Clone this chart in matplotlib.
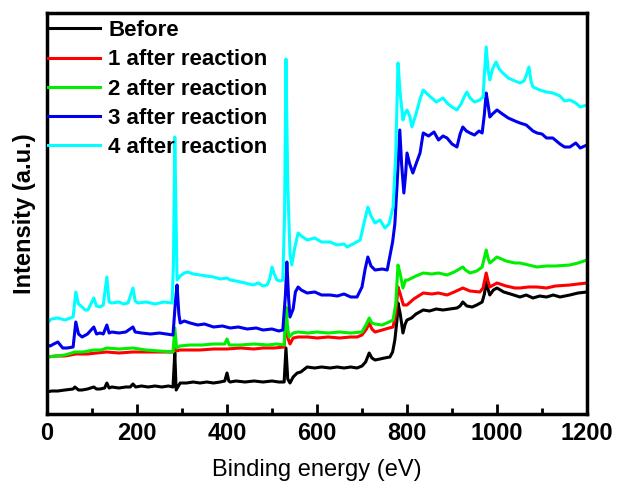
import numpy as np
import matplotlib.pyplot as plt
from matplotlib.ticker import MultipleLocator

plt.rcParams['font.family'] = ['Liberation Sans', 'DejaVu Sans']

# XPS survey spectra: (binding energy eV, intensity a.u.)
before = [(0, 22), (10, 23), (24, 23), (40, 24), (58, 25), (62, 27), (70, 24), (78, 24), (90, 25),
          (104, 27), (110, 25), (118, 25), (128, 26), (133, 31), (138, 26), (144, 27), (160, 26),
          (175, 27), (185, 27), (191, 30), (197, 27), (210, 28), (225, 27), (240, 28), (255, 27),
          (270, 28), (280, 27), (284, 61), (287, 24), (292, 28), (296, 31), (310, 31), (325, 32),
          (340, 31), (355, 32), (370, 31), (385, 32), (395, 33), (400, 41), (404, 33), (407, 32),
          (420, 33), (440, 32), (460, 33), (480, 32), (500, 33), (515, 32), (527, 32), (531, 66),
          (535, 35), (540, 31), (547, 37), (556, 41), (564, 42), (578, 47), (595, 46), (610, 47),
          (629, 46), (645, 47), (660, 46), (675, 47), (689, 46), (700, 48), (708, 52), (716, 61),
          (722, 56), (729, 54), (740, 55), (750, 56), (762, 57), (768, 62), (773, 74), (778, 95),
          (780, 111), (785, 100), (791, 81), (796, 90), (800, 94), (810, 96), (820, 100), (836, 104),
          (850, 103), (865, 105), (880, 104), (895, 105), (911, 106), (918, 108), (924, 112),
          (933, 108), (945, 107), (955, 109), (967, 112), (972, 120), (976, 132), (980, 125),
          (984, 119), (992, 124), (1000, 126), (1015, 122), (1030, 120), (1051, 117), (1065, 119),
          (1080, 116), (1095, 118), (1110, 117), (1125, 119), (1140, 117), (1162, 119), (1180, 121),
          (1200, 122)]

after1 = [(0, 57), (20, 58), (40, 58), (64, 60), (90, 60), (110, 61), (133, 62), (160, 61), (190, 62),
          (220, 62), (250, 62), (280, 62), (284, 71), (288, 63), (295, 64), (320, 64), (340, 64),
          (370, 65), (400, 65), (430, 66), (460, 65), (480, 66), (505, 66), (527, 67), (531, 94),
          (536, 75), (540, 70), (547, 76), (558, 77), (580, 77), (600, 76), (625, 77), (650, 76),
          (675, 77), (689, 77), (700, 79), (710, 85), (716, 91), (722, 85), (729, 82), (745, 84),
          (760, 86), (769, 87), (775, 100), (780, 127), (785, 120), (792, 109), (800, 109), (815, 115),
          (836, 121), (855, 120), (870, 121), (889, 119), (905, 122), (924, 126), (940, 123),
          (962, 122), (969, 126), (976, 141), (980, 133), (984, 127), (1000, 131), (1020, 128),
          (1040, 126), (1051, 126), (1070, 127), (1089, 127), (1110, 126), (1130, 128), (1162, 129),
          (1180, 130), (1200, 131)]

after2 = [(0, 57), (20, 58), (40, 59), (62, 62), (80, 62), (104, 64), (120, 64), (133, 66), (160, 65),
          (191, 66), (220, 64), (250, 63), (280, 62), (284, 86), (288, 66), (295, 68), (318, 69),
          (345, 69), (370, 70), (395, 70), (400, 75), (405, 69), (430, 69), (460, 70), (490, 69),
          (510, 70), (527, 69), (531, 107), (535, 85), (538, 77), (547, 81), (558, 82), (580, 81),
          (600, 82), (625, 81), (650, 82), (675, 81), (700, 82), (710, 90), (716, 96), (722, 91),
          (729, 90), (745, 89), (760, 92), (769, 94), (775, 110), (780, 149), (785, 140), (791, 126),
          (797, 134), (802, 134), (820, 138), (836, 141), (855, 140), (870, 141), (889, 139),
          (905, 142), (924, 147), (930, 144), (940, 141), (955, 143), (967, 147), (976, 164),
          (980, 156), (984, 151), (1000, 157), (1020, 153), (1040, 151), (1051, 151), (1070, 149),
          (1089, 147), (1110, 148), (1130, 148), (1162, 149), (1180, 151), (1200, 154)]

after3 = [(0, 69), (7, 68), (15, 70), (24, 72), (35, 66), (45, 66), (58, 67), (64, 92), (70, 80),
          (78, 77), (90, 80), (104, 87), (110, 80), (118, 81), (125, 80), (133, 89), (138, 81),
          (144, 82), (160, 81), (175, 82), (191, 87), (196, 82), (210, 81), (230, 80), (250, 81),
          (265, 80), (280, 79), (285, 110), (289, 129), (293, 100), (296, 91), (305, 93), (318, 91),
          (335, 89), (350, 90), (370, 87), (390, 88), (407, 86), (425, 87), (445, 85), (465, 86),
          (480, 84), (500, 85), (515, 83), (524, 84), (530, 120), (533, 152), (537, 115), (540, 97),
          (547, 105), (552, 122), (558, 127), (565, 124), (578, 121), (595, 122), (610, 119),
          (629, 119), (645, 118), (660, 120), (675, 117), (689, 117), (700, 127), (707, 145),
          (713, 157), (720, 148), (729, 144), (745, 145), (756, 144), (762, 158), (768, 172),
          (773, 190), (778, 230), (784, 284), (788, 250), (793, 221), (797, 240), (800, 261),
          (806, 250), (813, 241), (820, 250), (829, 261), (836, 281), (848, 278), (860, 282),
          (870, 274), (880, 278), (889, 276), (900, 270), (911, 267), (918, 280), (924, 287),
          (932, 283), (940, 281), (950, 279), (960, 283), (967, 281), (972, 300), (976, 321),
          (980, 310), (984, 297), (990, 300), (1000, 304), (1012, 300), (1025, 296), (1040, 293),
          (1051, 291), (1065, 289), (1080, 283), (1089, 281), (1100, 280), (1110, 276), (1124, 276),
          (1140, 270), (1150, 267), (1162, 267), (1175, 271), (1185, 266), (1200, 269)]

after4 = [(0, 91), (10, 95), (24, 96), (40, 94), (58, 97), (64, 122), (70, 110), (78, 107), (85, 104),
          (91, 104), (104, 116), (110, 108), (118, 107), (125, 109), (133, 137), (138, 112),
          (144, 111), (160, 112), (170, 110), (180, 111), (191, 126), (196, 113), (202, 111),
          (220, 112), (240, 110), (260, 112), (278, 111), (281, 150), (284, 277), (287, 190),
          (289, 134), (296, 138), (305, 141), (313, 142), (325, 140), (340, 139), (355, 138),
          (370, 137), (385, 135), (400, 136), (407, 134), (420, 133), (440, 131), (458, 129),
          (470, 131), (480, 128), (489, 129), (495, 135), (500, 147), (505, 140), (511, 134),
          (518, 133), (524, 134), (528, 200), (531, 355), (535, 230), (540, 160), (544, 149),
          (550, 165), (558, 181), (565, 178), (578, 174), (595, 176), (610, 172), (629, 172),
          (645, 169), (660, 170), (667, 167), (680, 170), (696, 174), (704, 190), (713, 207),
          (720, 198), (729, 191), (740, 194), (751, 186), (760, 190), (769, 207), (775, 260),
          (780, 351), (785, 320), (791, 294), (795, 300), (800, 304), (806, 298), (811, 287),
          (820, 300), (829, 315), (836, 324), (850, 318), (865, 312), (880, 316), (889, 311),
          (900, 307), (911, 304), (920, 310), (928, 318), (933, 322), (940, 316), (950, 312),
          (962, 314), (969, 317), (972, 340), (976, 367), (980, 345), (984, 334), (990, 345),
          (998, 352), (1005, 345), (1013, 341), (1025, 336), (1040, 333), (1051, 331), (1060, 333),
          (1066, 340), (1071, 347), (1076, 332), (1080, 327), (1095, 324), (1110, 322), (1124, 321),
          (1140, 318), (1150, 313), (1162, 314), (1175, 311), (1185, 307), (1200, 309)]

labels = ['Before', '1 after reaction', '2 after reaction', '3 after reaction', '4 after reaction']
colors = ['black', '#ff0000', '#00ee00', '#0000ee', '#00ffff']

fig = plt.figure(figsize=(6.19, 4.82), dpi=100)
ax = fig.add_axes([47 / 619, 1 - 414 / 482, 540 / 619, 401 / 482])

for data, lab, col in zip([before, after1, after2, after3, after4], labels, colors):
    x, y = zip(*data)
    ax.plot(x, y, c=col, lw=2.2, label=lab)

ax.set_xlim(0, 1200)
ax.set_ylim(0, 401)
ax.xaxis.set_major_locator(MultipleLocator(200))
ax.xaxis.set_minor_locator(MultipleLocator(100))
ax.tick_params(axis='x', which='major', direction='in', length=7, width=2, pad=6)
ax.tick_params(axis='x', which='minor', direction='in', length=4, width=2)
ax.set_yticks([])
for t in ax.get_xticklabels():
    t.set_fontsize(17)
    t.set_fontweight('bold')
for s in ax.spines.values():
    s.set_linewidth(2.5)

ax.set_xlabel('Binding energy (eV)', fontsize=17, labelpad=10)
ax.set_ylabel('Intensity (a.u.)', fontsize=17, fontweight='bold', labelpad=8)

ax.legend(loc='upper left', bbox_to_anchor=(0.002, 0.982), frameon=False, borderpad=0,
          borderaxespad=0, handlelength=2.35, handletextpad=0.36, labelspacing=0.37,
          prop={'weight': 'bold', 'size': 16})

fig.savefig('out.png', dpi=100)
